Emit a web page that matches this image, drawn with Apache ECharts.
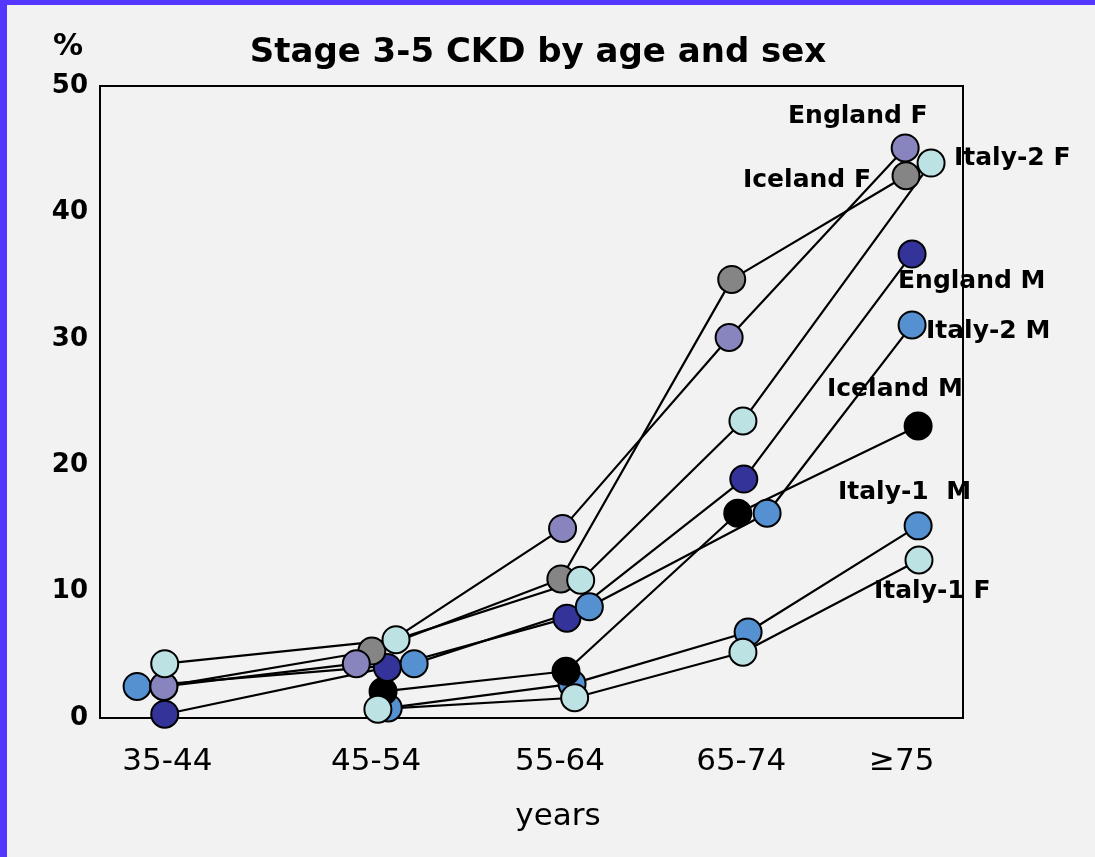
<!DOCTYPE html>
<html>
<head>
<meta charset="utf-8">
<script src="https://cdn.jsdelivr.net/npm/echarts@6/dist/echarts.min.js"></script>
<style>
  html, body { margin: 0; padding: 0; background: #f2f2f2; }
  #main { width: 1095px; height: 857px; }
</style>
</head>
<body>
<div id="main"></div>
<script>
// age groups and where their labels sit on the x scale (0-100)
const ageLabels = ["35-44", "45-54", "55-64", "65-74", "≥75"];
const ageX = [7.8, 32.0, 53.3, 74.3, 92.9];
const yTicks = [0, 10, 20, 30, 40, 50];

// prevalence (%) per age group, null = not shown
const englandF = [2.5, 4.3, 15.0, 30.1, 45.1];
const icelandF = [2.5, 5.3, 11.0, 34.7, 42.9];
const italy2F = [4.3, 6.2, 10.9, 23.5, 43.9];
const englandM = [0.3, 4.0, 7.9, 18.9, 36.7];
const italy2M = [2.5, 4.3, 8.8, 16.2, 31.1];
const icelandM = [null, 2.1, 3.7, 16.2, 23.1];
const italy1M = [null, 0.8, 2.7, 6.8, 15.2];
const italy1F = [null, 0.7, 1.6, 5.2, 12.5];

// horizontal placement of each marker (the original spreads them inside a group)
const englandF_x = [7.4, 29.7, 53.6, 72.9, 93.3];
const icelandF_x = [7.4, 31.5, 53.4, 73.2, 93.4];
const italy2F_x = [7.5, 34.3, 55.7, 74.5, 96.3];
const englandM_x = [7.5, 33.3, 54.1, 74.6, 94.1];
const italy2M_x = [4.3, 36.4, 56.7, 77.3, 94.1];
const icelandM_x = [null, 32.8, 54.0, 73.9, 94.8];
const italy1M_x = [null, 33.4, 54.7, 75.1, 94.8];
const italy1F_x = [null, 32.2, 55.0, 74.5, 94.9];

// drawing order: later ones sit on top
const groups = [
  { name: "Italy-1 M", vals: italy1M, xs: italy1M_x, color: "#5590d0" },
  { name: "Iceland M", vals: icelandM, xs: icelandM_x, color: "#000000" },
  { name: "England M", vals: englandM, xs: englandM_x, color: "#333399" },
  { name: "Italy-2 M", vals: italy2M, xs: italy2M_x, color: "#5590d0" },
  { name: "Iceland F", vals: icelandF, xs: icelandF_x, color: "#858585" },
  { name: "England F", vals: englandF, xs: englandF_x, color: "#8885be" },
  { name: "Italy-2 F", vals: italy2F, xs: italy2F_x, color: "#bde2e4" },
  { name: "Italy-1 F", vals: italy1F, xs: italy1F_x, color: "#bde2e4" },
];

const FONT = "DejaVu Sans";

function pts(g) {
  const out = [];
  g.vals.forEach((v, i) => {
    if (v != null) out.push([g.xs[i], v]);
  });
  return out;
}

const series = [];
// lines first, all under the markers
groups.forEach((g) => {
  series.push({
    name: g.name + " line",
    type: "line",
    data: pts(g),
    symbol: "none",
    z: 2,
    silent: true,
    lineStyle: { color: "#000", width: 2.2 },
  });
});
groups.forEach((g, k) => {
  series.push({
    name: g.name,
    type: "scatter",
    data: pts(g),
    symbol: "circle",
    symbolSize: 27,
    z: 3 + k,
    itemStyle: { color: g.color, borderColor: "#000", borderWidth: 2, opacity: 1 },
  });
});

// annotation texts next to the last points
const tags = [
  { text: "England F", x: 788, y: 116 },
  { text: "Iceland F", x: 743, y: 180 },
  { text: "Italy-2 F", x: 954, y: 158 },
  { text: "England M", x: 898, y: 281 },
  { text: "Italy-2 M", x: 926, y: 331 },
  { text: "Iceland M", x: 827, y: 389 },
  { text: "Italy-1  M", x: 838, y: 492 },
  { text: "Italy-1 F", x: 874, y: 591 },
];

const graphic = [
  { type: "rect", shape: { x: 0, y: 0, width: 1095, height: 5 }, style: { fill: "#5438ff" }, z: 100 },
  { type: "rect", shape: { x: 0, y: 0, width: 7, height: 857 }, style: { fill: "#5438ff" }, z: 100 },
  {
    type: "text", z: 100,
    style: { text: "Stage 3-5 CKD by age and sex", x: 538, y: 53, textAlign: "center", textVerticalAlign: "middle",
      font: "bold 34px '" + FONT + "'", fill: "#000" },
  },
  {
    type: "text", z: 100,
    style: { text: "%", x: 68, y: 47, textAlign: "center", textVerticalAlign: "middle",
      font: "bold 30px '" + FONT + "'", fill: "#000" },
  },
  {
    type: "text", z: 100,
    style: { text: "years", x: 558, y: 817, textAlign: "center", textVerticalAlign: "middle",
      font: "31px '" + FONT + "'", fill: "#000" },
  },
];
tags.forEach((t) => {
  graphic.push({
    type: "text", z: 100,
    style: { text: t.text, x: t.x, y: t.y, textAlign: "left", textVerticalAlign: "middle",
      font: "bold 25px '" + FONT + "'", fill: "#000" },
  });
});

const chart = echarts.init(document.getElementById("main"), null, { renderer: "canvas" });
chart.setOption({
  backgroundColor: "#f2f2f2",
  animation: false,
  grid: { left: 100, right: 132, top: 86, bottom: 139, show: true, borderColor: "#000", borderWidth: 2, backgroundColor: "transparent" },
  xAxis: {
    type: "value",
    min: 0,
    max: 100,
    axisLine: { show: false },
    axisTick: { show: false },
    splitLine: { show: false },
    axisLabel: {
      customValues: ageX,
      formatter: (v) => {
        const i = ageX.indexOf(v);
        return i >= 0 ? ageLabels[i] : "";
      },
      fontFamily: FONT,
      fontSize: 31,
      color: "#000",
      margin: 28,
      hideOverlap: false,
    },
  },
  yAxis: {
    type: "value",
    min: yTicks[0],
    max: yTicks[yTicks.length - 1],
    interval: 10,
    axisLine: { show: false },
    axisTick: { show: false },
    splitLine: { show: false },
    axisLabel: { fontFamily: FONT, fontWeight: "bold", fontSize: 26, color: "#000", margin: 12 },
  },
  graphic: graphic,
  series: series,
});
</script>
</body>
</html>
